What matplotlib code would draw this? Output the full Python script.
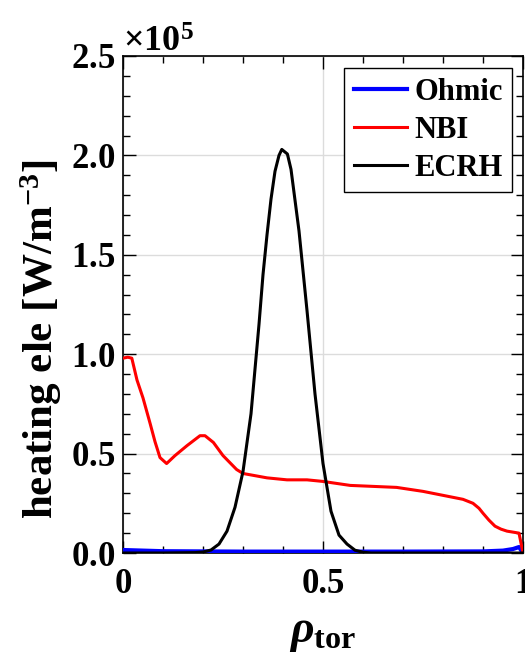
import matplotlib
matplotlib.use("Agg")
import matplotlib.pyplot as plt
from matplotlib.ticker import MultipleLocator, ScalarFormatter
import numpy as np

plt.rcParams['font.family'] = ['Liberation Serif', 'DejaVu Serif']
plt.rcParams['font.weight'] = 'bold'
plt.rcParams['mathtext.fontset'] = 'custom'
plt.rcParams['mathtext.rm'] = 'Liberation Serif:bold'
plt.rcParams['mathtext.bf'] = 'Liberation Serif:bold'
plt.rcParams['mathtext.it'] = 'Liberation Serif:italic:bold'
plt.rcParams['mathtext.default'] = 'bf'

# Electron heating profiles versus normalized toroidal radius (units of 1e5 W/m^3)
rho_ohm = [0.0, 0.05, 0.1, 0.3, 0.5, 0.7, 0.9, 0.95, 0.975, 0.99, 1.0]
q_ohm = [0.015, 0.012, 0.009, 0.007, 0.007, 0.007, 0.008, 0.012, 0.02, 0.03, 0.0]

rho_nbi = [0.0, 0.012, 0.022, 0.035, 0.05, 0.068, 0.08, 0.0925, 0.109, 0.13, 0.16,
           0.1925, 0.205, 0.226, 0.25, 0.284, 0.30, 0.36, 0.41, 0.46, 0.50, 0.568,
           0.684, 0.75, 0.80, 0.85, 0.875, 0.89, 0.90, 0.915, 0.93, 0.945, 0.96,
           0.975, 0.99, 0.995, 1.0]
q_nbi = [0.98, 0.985, 0.98, 0.87, 0.78, 0.65, 0.56, 0.48, 0.45, 0.49, 0.54,
         0.59, 0.59, 0.556, 0.49, 0.42, 0.40, 0.378, 0.368, 0.368, 0.36, 0.34,
         0.33, 0.31, 0.29, 0.27, 0.25, 0.225, 0.20, 0.165, 0.135, 0.12, 0.11,
         0.105, 0.10, 0.05, 0.0]

rho_ecrh = [0.0, 0.10, 0.18, 0.20, 0.22, 0.24, 0.26, 0.28, 0.30, 0.32, 0.34,
            0.35, 0.36, 0.37, 0.38, 0.39, 0.397, 0.411, 0.42, 0.44, 0.46,
            0.48, 0.50, 0.52, 0.54, 0.56, 0.58, 0.60, 0.62, 0.8, 1.0]
q_ecrh = [0.0, 0.0, 0.002, 0.005, 0.015, 0.045, 0.11, 0.23, 0.41, 0.70, 1.15,
          1.40, 1.60, 1.78, 1.92, 2.00, 2.03, 2.007, 1.93, 1.62, 1.22,
          0.80, 0.45, 0.21, 0.09, 0.045, 0.014, 0.004, 0.0, 0.0, 0.0]

scale = 1e5

fig = plt.figure(figsize=(5.25, 6.64), dpi=100)
ax = fig.add_axes([123/525, 111/664, 400/525, 497/664])

ax.plot(rho_ohm, np.array(q_ohm)*scale, color='#0000ff', lw=3.0, label='Ohmic', zorder=3)
ax.plot(rho_nbi, np.array(q_nbi)*scale, color='#ff0000', lw=2.2, label='NBI', zorder=3)
ax.plot(rho_ecrh, np.array(q_ecrh)*scale, color='black', lw=2.2, label='ECRH', zorder=4)

ax.set_xlim(0, 1)
ax.set_ylim(0, 2.5e5)
ax.xaxis.set_major_locator(MultipleLocator(0.5))
ax.xaxis.set_minor_locator(MultipleLocator(0.1))
ax.yaxis.set_major_locator(MultipleLocator(0.5e5))
ax.yaxis.set_minor_locator(MultipleLocator(0.1e5))

fmt = ScalarFormatter(useMathText=True)
fmt.set_powerlimits((0, 0))
ax.yaxis.set_major_formatter(fmt)
ax.set_xticks([0, 0.5, 1])
ax.set_xticklabels(['0', '0.5', '1'])
ax.yaxis.get_offset_text().set_fontsize(26)

ax.grid(True, which='major', color='#dcdcdc', lw=1.0)
ax.tick_params(which='both', direction='in', top=True, right=True, labelsize=25, width=1.0)
ax.tick_params(axis='y', which='major', length=9, pad=6)
ax.tick_params(axis='x', which='major', length=9, pad=11)
ax.tick_params(which='minor', length=5)
for s in ax.spines.values():
    s.set_linewidth(1.2)

ax.set_xlabel(r'$\mathit{\rho}_{\mathbf{tor}}$', fontsize=33, labelpad=7)
ax.set_ylabel(r'heating ele [W/m$^{\mathbf{-3}}$]', fontsize=31, fontweight='bold')
ax.yaxis.set_label_coords(-0.147, 0.43)

leg = ax.legend(loc='upper right', bbox_to_anchor=(0.973, 0.975), fontsize=22,
                frameon=True, fancybox=False, edgecolor='black', framealpha=1,
                handlelength=1.75, handletextpad=0.25, borderpad=0.3, labelspacing=0.3,
                borderaxespad=0)
leg.get_frame().set_linewidth(1.0)

fig.savefig('out.png', dpi=100)
